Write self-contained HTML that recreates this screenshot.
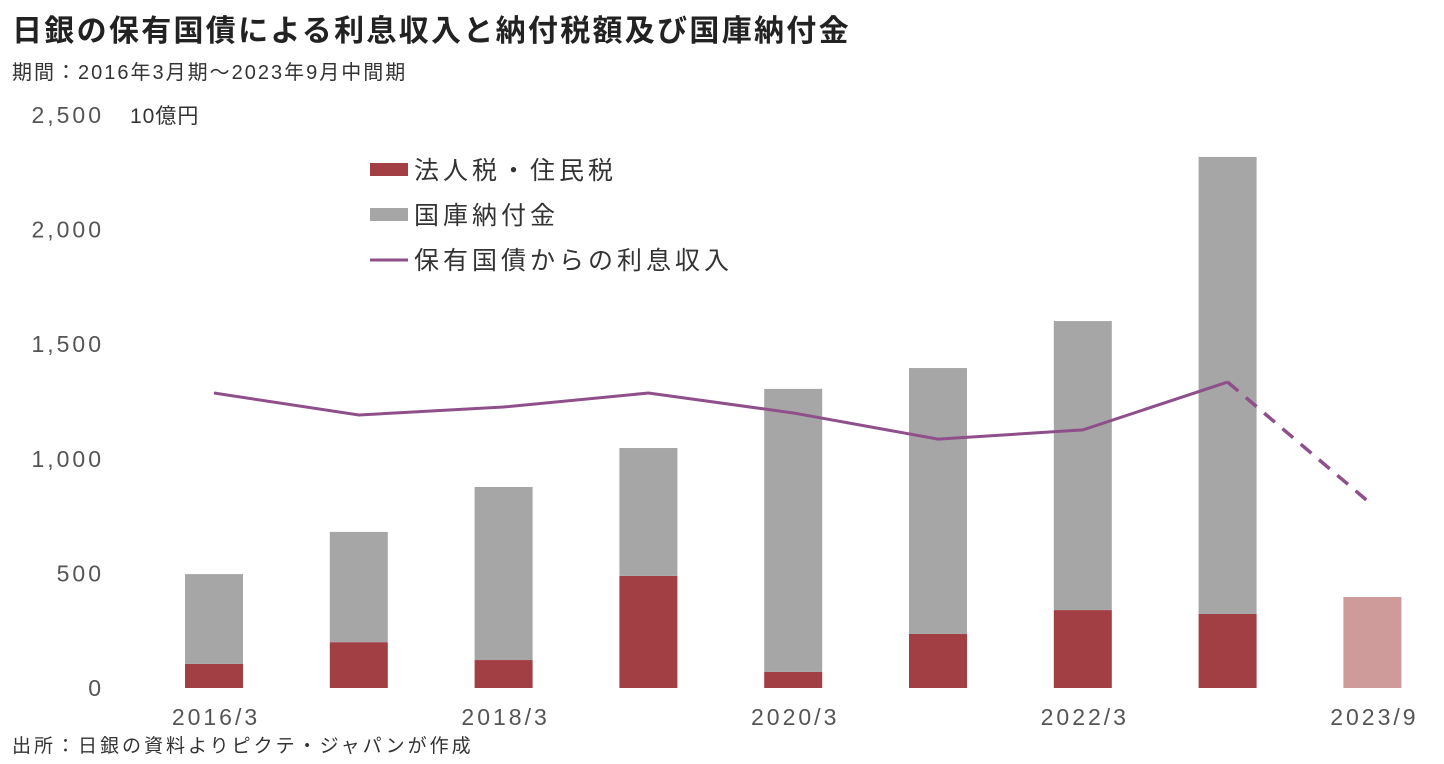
<!DOCTYPE html>
<html><head><meta charset="utf-8">
<style>
body{margin:0;background:#fff;width:1444px;height:764px;overflow:hidden;font-family:"Liberation Sans","Noto Sans CJK JP",sans-serif;}
svg{position:absolute;left:0;top:0}
</style></head>
<body>
<svg id="c" width="1444" height="764" font-family="Liberation Sans, Noto Sans CJK JP, sans-serif">
<text x="12" y="41" font-size="30" font-weight="bold" fill="#222" letter-spacing="2.3">日銀の保有国債による利息収入と納付税額及び国庫納付金</text>
<text x="12" y="79" font-size="20" fill="#333" letter-spacing="2">期間：2016年3月期～2023年9月中間期</text>
<text x="130" y="123" font-size="21" fill="#333" letter-spacing="1">10億円</text>
<text x="12" y="752" font-size="19" fill="#333" letter-spacing="3">出所：日銀の資料よりピクテ・ジャパンが作成</text>
<g id="legend">
<rect x="370" y="163" width="38" height="13" fill="#a23f44"/>
<text x="414" y="179" font-size="25" fill="#333" letter-spacing="4">法人税・住民税</text>
<rect x="370" y="208" width="38" height="13" fill="#a6a6a6"/>
<text x="414" y="224" font-size="25" fill="#333" letter-spacing="4">国庫納付金</text>
<line x1="370" y1="260" x2="408" y2="260" stroke="#8f4f8a" stroke-width="3"/>
<text x="414" y="269" font-size="25" fill="#333" letter-spacing="4">保有国債からの利息収入</text>
</g>
<g id="axes"></g>
<g id="bars"></g>
<g id="line"></g>
</svg>
<script>
const categories=["2016/3","2017/3","2018/3","2019/3","2020/3","2021/3","2022/3","2023/3","2023/9"];
const xLabels=["2016/3","","2018/3","","2020/3","","2022/3","","2023/9"];
const taxValues=[105,200,122,489,70,236,340,323,397];
const treasuryValues=[392,481,755,558,1235,1160,1261,1994,0];
const interestValues=[1287,1191,1226,1287,1200,1086,1126,1335,798];
const yTicks=[0,500,1000,1500,2000,2500];
const yTickLabels=["0","500","1,000","1,500","2,000","2,500"];

const NS="http://www.w3.org/2000/svg";
const y0=688, pxPer=573/2500;
const yS=v=>y0-v*pxPer;
const xS=i=>214+i*144.8;
const bw=58;
function mk(tag,attrs,parent,text){const e=document.createElementNS(NS,tag);for(const k in attrs)e.setAttribute(k,attrs[k]);if(text!==undefined)e.textContent=text;parent.appendChild(e);return e;}
const axes=document.getElementById('axes'),bars=document.getElementById('bars'),line=document.getElementById('line');
yTicks.forEach((t,i)=>{
 const e=mk('text',{x:104,y:yS(t)+8,'font-size':23,fill:'#555','text-anchor':'end','letter-spacing':3},axes,yTickLabels[i]);
 
 
});
xLabels.forEach((l,i)=>{
 if(!l)return;
 const e=mk('text',{x:xS(i)+2,y:725,'font-size':23,fill:'#555','text-anchor':'middle','letter-spacing':3},axes,l);
 
 
});
categories.forEach((c,i)=>{
 const last=i===categories.length-1;
 const r=mk('rect',{x:xS(i)-bw/2,y:yS(taxValues[i]),width:bw,height:taxValues[i]*pxPer,fill:last?'#cf9a9a':'#a23f44'},bars);
 
 
 if(treasuryValues[i]>0){
  const g=mk('rect',{x:xS(i)-bw/2,y:yS(taxValues[i]+treasuryValues[i]),width:bw,height:treasuryValues[i]*pxPer,fill:'#a6a6a6'},bars);
  
  
 }
});
const n=interestValues.length;
let d='';
for(let i=0;i<n-1;i++)d+=(i?'L':'M')+xS(i)+','+yS(interestValues[i]);
const p=mk('path',{d:d,fill:'none',stroke:'#8f4f8a','stroke-width':3},line);


const dl=mk('line',{x1:xS(n-2),y1:yS(interestValues[n-2]),x2:xS(n-1),y2:yS(interestValues[n-1]),stroke:'#8f4f8a','stroke-width':3.5,'stroke-dasharray':'14,10'},line);


</script>
</body></html>
